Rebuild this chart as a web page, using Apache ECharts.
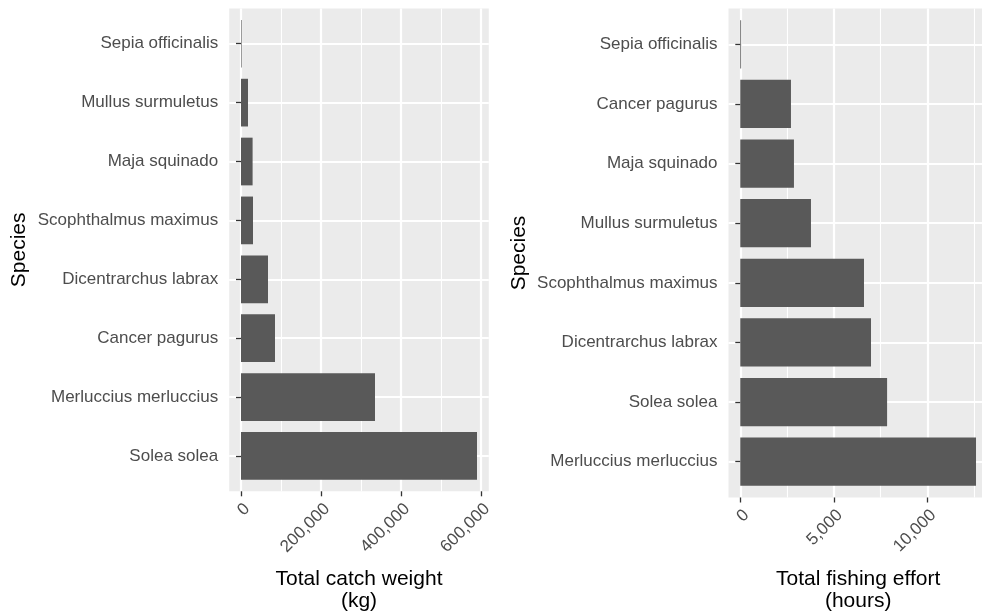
<!DOCTYPE html>
<html>
<head>
<meta charset="utf-8">
<script src="https://cdn.jsdelivr.net/npm/echarts@6/dist/echarts.min.js"></script>
<style>
  html, body { margin: 0; padding: 0; background: #ffffff; }
  #chart { width: 982px; height: 612px; }
</style>
</head>
<body>
<div id="chart"></div>
<script>
// Catch weight per species (kg), bottom category first
const catchSpecies = ['Solea solea', 'Merluccius merluccius', 'Cancer pagurus', 'Dicentrarchus labrax',
  'Scophthalmus maximus', 'Maja squinado', 'Mullus surmuletus', 'Sepia officinalis'];
const catchWeightKg = [590000, 335000, 85000, 67500, 30000, 29000, 17500, 1500];
const catchTicks = [0, 200000, 400000, 600000];

// Fishing effort per species (hours), bottom category first
const effortSpecies = ['Merluccius merluccius', 'Solea solea', 'Dicentrarchus labrax', 'Scophthalmus maximus',
  'Mullus surmuletus', 'Maja squinado', 'Cancer pagurus', 'Sepia officinalis'];
const effortHours = [12605, 7850, 6990, 6615, 3780, 2870, 2710, 45];
const effortTicks = [0, 5000, 10000];

const FONT = "'Liberation Sans', Arial, Helvetica, sans-serif";
const LABEL_COLOR = '#4D4D4D';
const TICK_STYLE = { color: '#333333', width: 1.3 };
const fmt = v => Number(v).toLocaleString('en-US');

const grids = [], xAxes = [], yAxes = [], series = [];

function addPanel(p) {
  const n = p.species.length;
  const maxVal = Math.max(...p.values);
  // 5% expansion either side of the continuous scale
  const xMin = -0.05 * maxVal, xMax = 1.05 * maxVal;
  const pxPerUnit = p.width / (xMax - xMin);
  // discrete scale padded by 0.6 of a step each side
  const unit = p.height / (n + 0.2);
  const bg = grids.length, bars = bg + 1, ticksGrid = bg + 2;
  const firstTick = p.ticks[0], lastTick = p.ticks[p.ticks.length - 1];

  // panel background with grid lines
  grids.push({
    left: p.left, top: p.top, width: p.width, height: p.height,
    show: true, backgroundColor: '#EBEBEB', borderWidth: 0, outerBoundsMode: 'none'
  });
  // band area holding the bars
  grids.push({
    left: p.left, top: p.top + 0.1 * unit, width: p.width, height: n * unit,
    show: false, outerBoundsMode: 'none'
  });
  // span between the first and last labelled break, for ticks and labels
  grids.push({
    left: p.left + (firstTick - xMin) * pxPerUnit, top: p.top,
    width: (lastTick - firstTick) * pxPerUnit, height: p.height,
    show: false, outerBoundsMode: 'none'
  });

  xAxes.push({
    gridIndex: bg, type: 'value', min: xMin, max: xMax, splitNumber: 3,
    axisLine: { show: false }, axisTick: { show: false }, axisLabel: { show: false },
    splitLine: { show: true, showMinLine: false, showMaxLine: false, lineStyle: { color: '#FFFFFF', width: 2.2 } },
    minorTick: { show: false, splitNumber: 2 },
    minorSplitLine: { show: true, lineStyle: { color: '#FFFFFF', width: 1.1 } },
    name: p.title, nameLocation: 'middle', nameGap: p.nameGapX, nameMoveOverlap: false,
    nameTextStyle: { fontSize: 21, color: '#000000', fontFamily: FONT, lineHeight: 22, verticalAlign: 'middle' }
  });
  xAxes.push({ gridIndex: bars, type: 'value', min: xMin, max: xMax, show: false });
  xAxes.push({
    gridIndex: ticksGrid, type: 'value', min: firstTick, max: lastTick,
    interval: p.ticks[1] - p.ticks[0],
    axisLine: { show: false },
    axisTick: { show: true, length: 5, lineStyle: TICK_STYLE },
    axisLabel: {
      rotate: 45, align: 'right', verticalAlign: 'top', margin: 9,
      color: LABEL_COLOR, fontSize: 17, fontFamily: FONT, formatter: fmt
    },
    splitLine: { show: false }
  });

  yAxes.push({
    gridIndex: bg, type: 'value', min: 0.4, max: n + 0.6, splitNumber: n,
    axisLine: { show: false }, axisTick: { show: false }, axisLabel: { show: false },
    splitLine: { show: true, showMinLine: false, showMaxLine: false, lineStyle: { color: '#FFFFFF', width: 2.2 } },
    name: 'Species', nameLocation: 'middle', nameGap: p.nameGapY, nameMoveOverlap: false,
    nameTextStyle: { fontSize: 21, color: '#000000', fontFamily: FONT, verticalAlign: 'middle' }
  });
  yAxes.push({
    gridIndex: bars, type: 'category', data: p.species,
    axisLine: { show: false },
    axisTick: { show: true, alignWithLabel: true, length: 5, lineStyle: TICK_STYLE },
    axisLabel: { color: LABEL_COLOR, fontSize: 17, fontFamily: FONT, margin: 11 },
    splitLine: { show: false }
  });
  yAxes.push({ gridIndex: ticksGrid, type: 'value', show: false });

  series.push({
    type: 'bar', xAxisIndex: bars, yAxisIndex: bars, data: p.values,
    barCategoryGap: '19%', itemStyle: { color: '#595959' }, silent: true
  });
}

addPanel({
  species: catchSpecies, values: catchWeightKg, ticks: catchTicks,
  title: 'Total catch weight\n(kg)',
  left: 229.2, top: 8.4, width: 259.6, height: 482.9, nameGapX: 99, nameGapY: 209.7
});
addPanel({
  species: effortSpecies, values: effortHours, ticks: effortTicks,
  title: 'Total fishing effort\n(hours)',
  left: 728.5, top: 8.5, width: 259.3, height: 489, nameGapX: 92.5, nameGapY: 209.5
});

const chart = echarts.init(document.getElementById('chart'), null, { renderer: 'canvas' });
chart.setOption({
  animation: false,
  backgroundColor: '#FFFFFF',
  textStyle: { fontFamily: FONT },
  grid: grids, xAxis: xAxes, yAxis: yAxes, series: series
});
</script>
</body>
</html>
